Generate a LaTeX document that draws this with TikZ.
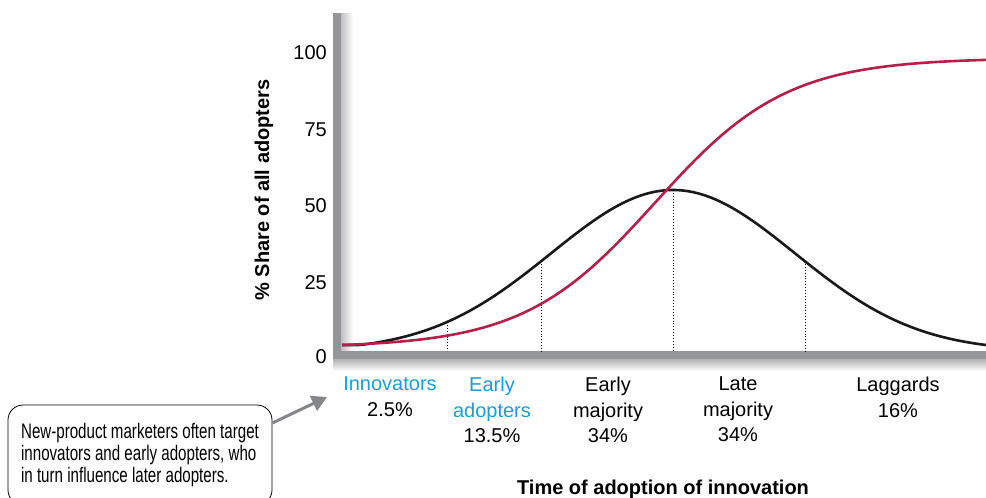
\documentclass[tikz,border=0pt]{standalone}
\usepackage{fontspec}
\setmainfont{Liberation Sans}
\newfontfamily\narrowfont[FakeStretch=0.72]{Liberation Sans}
\usetikzlibrary{positioning, arrows.meta}
\definecolor{axisgray}{RGB}{147,149,152}
\definecolor{adoptblue}{RGB}{27,157,217}
\definecolor{curvered}{RGB}{181,31,72}
\tikzset{
ticklabel/.style={anchor=east, inner sep=0pt, font=\fontsize{20}{24}\selectfont}, % numbers on the y axis
axislabel/.style={font=\bfseries\fontsize{20}{24}\selectfont}, % bold axis titles
group/.style={anchor=north, inner sep=0pt, align=center, font=\fontsize{20}{25.5}\selectfont}, % adopter groups
divider/.style={dotted, line width=0.9pt}, % dotted lines between groups
bell/.style={line width=2.6pt, black!90}, % share of adopters
scurve/.style={line width=2.6pt, curvered}, % cumulative share
note/.style={draw, line width=0.8pt, rounded corners=15pt, minimum width=264pt, minimum height=100pt,
  align=left, font=\narrowfont\fontsize{21}{22}\selectfont}, % callout box
pointer/.style={axisgray!90!black, line width=3pt, -{Triangle[length=15pt, width=16pt]}}, % callout arrow
}

\begin{document}
\begin{tikzpicture}[x=1pt, y=-1pt]
\useasboundingbox (0,0) rectangle (986,498);
% frame of the chart
\shade[top color=black!30, bottom color=white] (333,359) rectangle (986,371);
\shade[left color=black!25, right color=white] (341,13) rectangle (353,351);
\fill[axisgray] (333,13) rectangle (341,359);
\fill[axisgray] (333,351) rectangle (986,359);

\foreach \v/\y in {0/357, 25/283, 50/206, 75/130, 100/53}
  \node[ticklabel] (t\v) at (327,\y) {\v};
\node[axislabel, rotate=90] (ylab) at (264,190) {\% Share of all adopters};

% borders between the groups
\foreach \x/\y [count=\i] in {447/322, 541/261, 673/190, 805/261} {
  \coordinate (top\i) at (\x,\y);
  \coordinate (bot\i) at (\x,351);
  \draw[divider] (top\i) -- (bot\i);
}

\draw[bell] plot[domain=342:986, samples=120]
  (\x, {345-155*max(exp(-((\x-673)/122)^2/2)-0.0372,0)/0.9628});
\draw[scurve] plot[domain=342:986, samples=120] (\x, {347.5-289.5/(1+exp(-(\x-655)/65.9))});

% adopter groups
\node[group, text=adoptblue] (innov) at (390,377) {Innovators\\\textcolor{black}{2.5\%}};
\node[group, text=adoptblue] (early) at (492,377) {Early\\adopters\\\textcolor{black}{13.5\%}};
\node[group] (emaj) at (608,377) {Early\\majority\\34\%};
\node[group] (lmaj) at (738,377) {Late\\majority\\34\%};
\node[group] (lagg) at (898,377) {Laggards\\16\%};
\node[axislabel] (xlab) at (663,489) {Time of adoption of innovation};

% callout
\node[note] (note) at (140,455) {New-product marketers often target\\innovators and early adopters, who\\in turn influence later adopters.};
\coordinate (aim) at (327,397);
\draw[pointer] ([yshift=32pt]note.east) -- (aim);
\end{tikzpicture}
\end{document}
